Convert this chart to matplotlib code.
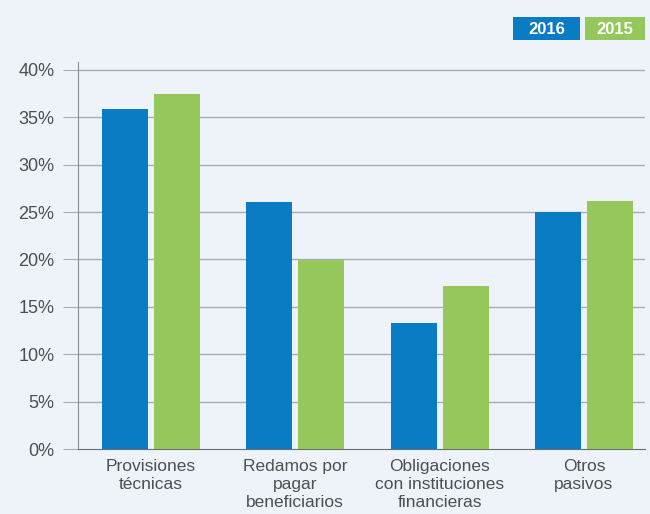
import matplotlib.pyplot as plt
from matplotlib.patches import Rectangle
import numpy as np

categories = ['Provisiones\ntécnicas', 'Redamos por\npagar\nbeneficiarios',
              'Obligaciones\ncon instituciones\nfinancieras', 'Otros\npasivos']
vals_2016 = [35.9, 26.1, 13.3, 25.0]
vals_2015 = [37.5, 19.9, 17.2, 26.2]
yticks = [0, 5, 10, 15, 20, 25, 30, 35, 40]
legend_labels = ['2016', '2015']

blue = '#0a7cc3'
green = '#95c85a'
bg = '#eef3fa'

plt.rcParams['font.family'] = ['Liberation Sans', 'DejaVu Sans']

fig = plt.figure(figsize=(6.5, 5.14), dpi=100)
fig.patch.set_facecolor(bg)
ax = fig.add_axes([78 / 650, 1 - 449 / 514, (645 - 78) / 650, (449 - 62) / 514])
ax.set_facecolor(bg)

x = np.arange(len(categories))
w = 0.319
ax.bar(x - 0.18, vals_2016, w, color=blue, zorder=3)
ax.bar(x + 0.18, vals_2015, w, color=green, zorder=3)

ax.set_xlim(-0.506, 3.423)
ax.set_ylim(0, 40.84)
ax.set_yticks(yticks)
ax.set_yticklabels([f'{t}%' for t in yticks], fontsize=13, color='#4f4f4f')
for t in yticks[1:]:
    ax.axhline(t, color='#a8acb0', lw=1, zorder=1)
ax.tick_params(axis='y', length=11, color='#a8acb0', pad=6)
ax.set_xticks(x)
ax.set_xticklabels(categories, fontsize=12.5, color='#4f4f4f', linespacing=1.25)
ax.tick_params(axis='x', length=0, pad=7)

for s in ['top', 'right']:
    ax.spines[s].set_visible(False)
ax.spines['left'].set_color('#8a8e92')
ax.spines['bottom'].set_color('#6a6e72')

# legend boxes
for lab, col, x0, x1 in [(legend_labels[0], blue, 513, 580), (legend_labels[1], green, 585, 645)]:
    fig.patches.append(Rectangle((x0 / 650, 1 - 40 / 514), (x1 - x0) / 650, 23 / 514,
                                 transform=fig.transFigure, fc=col, ec='none'))
    fig.text((x0 + x1) / 2 / 650, 1 - 29 / 514, lab, ha='center', va='center',
             color='white', fontsize=12, fontweight='bold')

plt.savefig('out.png', dpi=100, facecolor=bg)
